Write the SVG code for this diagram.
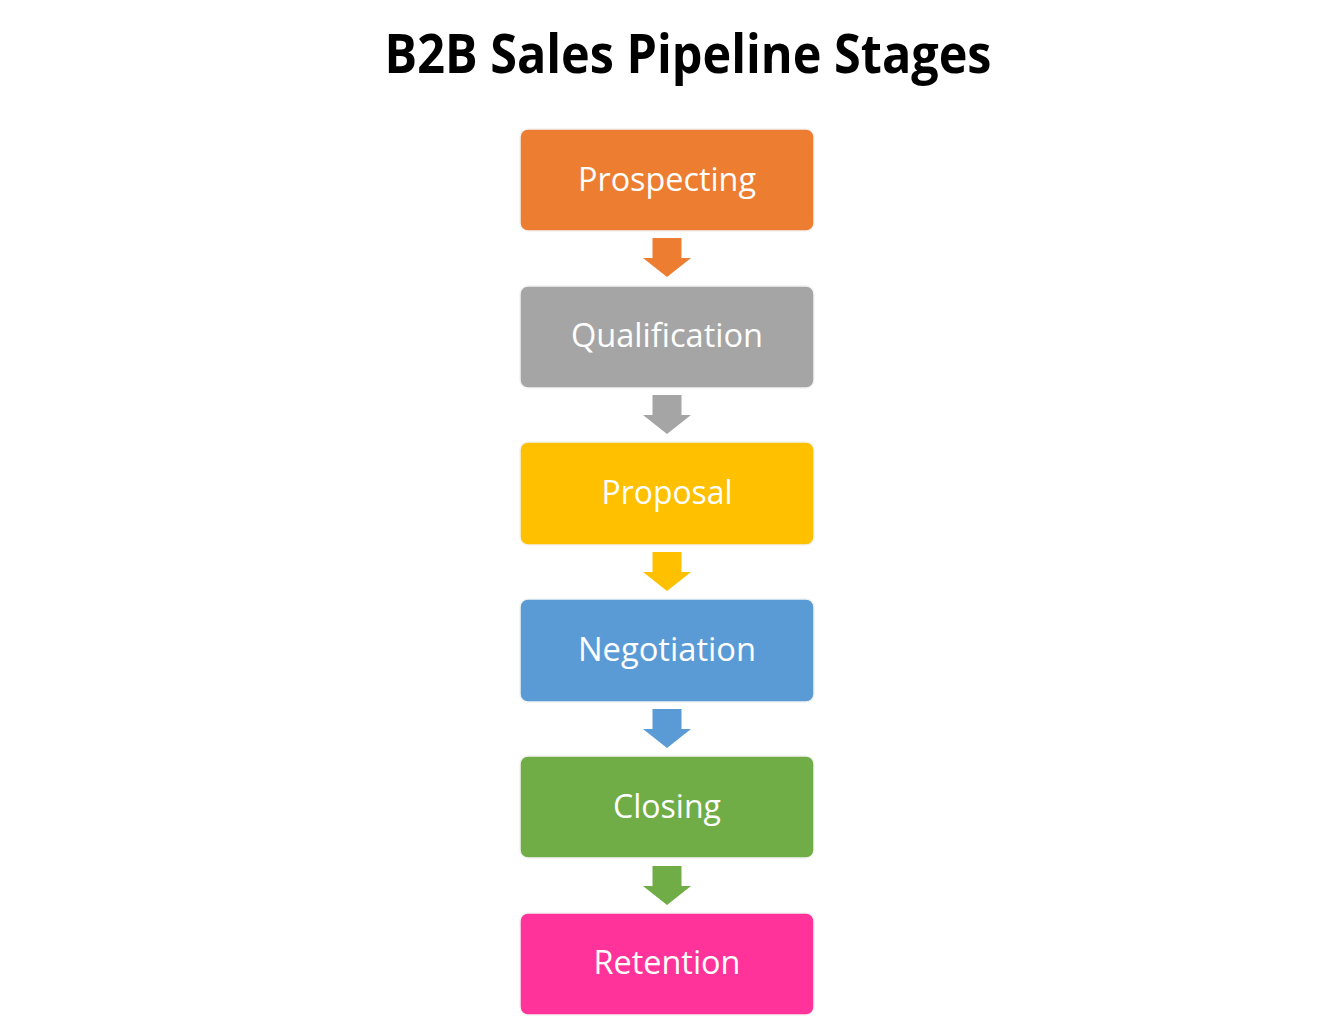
<svg xmlns="http://www.w3.org/2000/svg" width="1334" height="1017" viewBox="0 0 1334 1017">
  <style>
    .box { stroke: #f3f3f3; stroke-width: 1.5; }
    .lbl { font-family: "Open Sans", "Liberation Sans", sans-serif; font-size: 32px; fill: #ffffff; text-anchor: middle; }
    .title { font-family: "Open Sans", "Liberation Sans", sans-serif; font-weight: bold; font-size: 54px; fill: #000000; text-anchor: middle; }
  </style>
  <defs>
    <path id="arr" d="M -14.5 0 H 14.5 V 20 H 24 L 0 39 L -24 20 H -14.5 Z"/>
  </defs>
  <rect width="1334" height="1017" fill="#ffffff"/>
  <text class="title" x="688" y="73" textLength="607" lengthAdjust="spacingAndGlyphs">B2B Sales Pipeline Stages</text>

  <g id="connectors">
    <use href="#arr" x="667" y="238" fill="#ED7D31"/>
    <use href="#arr" x="667" y="395" fill="#A5A5A5"/>
    <use href="#arr" x="667" y="552" fill="#FFC000"/>
    <use href="#arr" x="667" y="709" fill="#5B9BD5"/>
    <use href="#arr" x="667" y="866" fill="#70AD47"/>
  </g>

  <g id="prospecting">
    <rect class="box" x="520" y="129" width="294" height="102" rx="8" fill="#ED7D31"/>
    <text class="lbl" x="667" y="191" textLength="178" lengthAdjust="spacingAndGlyphs">Prospecting</text>
  </g>
  <g id="qualification">
    <rect class="box" x="520" y="286" width="294" height="102" rx="8" fill="#A5A5A5"/>
    <text class="lbl" x="667" y="347" textLength="192" lengthAdjust="spacingAndGlyphs">Qualification</text>
  </g>
  <g id="proposal">
    <rect class="box" x="520" y="442" width="294" height="103" rx="8" fill="#FFC000"/>
    <text class="lbl" x="667" y="504" textLength="131" lengthAdjust="spacingAndGlyphs">Proposal</text>
  </g>
  <g id="negotiation">
    <rect class="box" x="520" y="599" width="294" height="103" rx="8" fill="#5B9BD5"/>
    <text class="lbl" x="667" y="661" textLength="178" lengthAdjust="spacingAndGlyphs">Negotiation</text>
  </g>
  <g id="closing">
    <rect class="box" x="520" y="756" width="294" height="102" rx="8" fill="#70AD47"/>
    <text class="lbl" x="667" y="818" textLength="108" lengthAdjust="spacingAndGlyphs">Closing</text>
  </g>
  <g id="retention">
    <rect class="box" x="520" y="913" width="294" height="102" rx="8" fill="#FF3399"/>
    <text class="lbl" x="667" y="974" textLength="147" lengthAdjust="spacingAndGlyphs">Retention</text>
  </g>
</svg>
